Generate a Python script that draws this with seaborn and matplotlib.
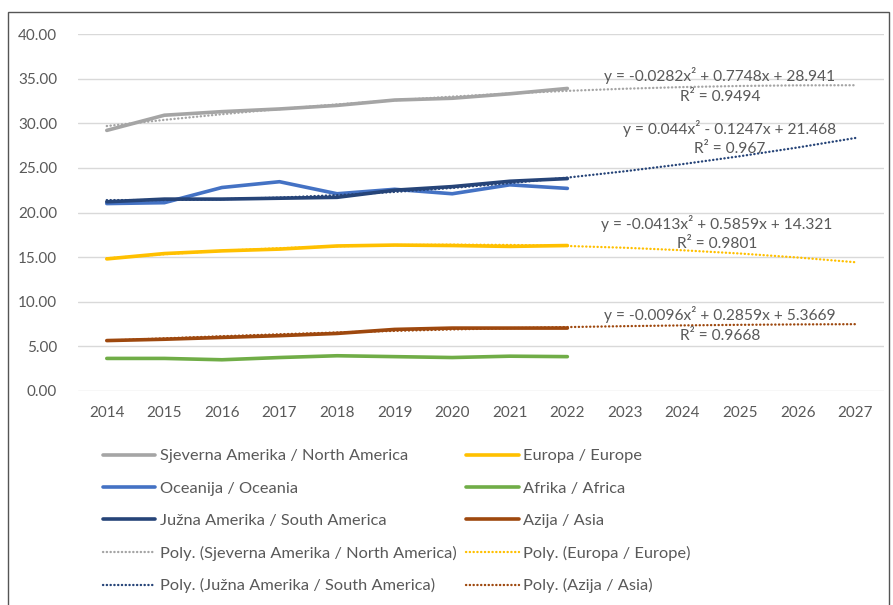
import numpy as np
import pandas as pd
import matplotlib
matplotlib.use("Agg")
import matplotlib.pyplot as plt
from matplotlib.patches import Rectangle
from matplotlib.lines import Line2D
import seaborn as sns

# ---- data ----
years = [2014, 2015, 2016, 2017, 2018, 2019, 2020, 2021, 2022]
forecast_years = list(range(2014, 2028))
north_america = [29.2, 30.9, 31.3, 31.6, 32.0, 32.6, 32.8, 33.3, 33.9]
europe = [14.8, 15.4, 15.7, 15.9, 16.25, 16.35, 16.3, 16.2, 16.3]
oceania = [21.0, 21.1, 22.8, 23.45, 22.1, 22.6, 22.1, 23.1, 22.7]
africa = [3.65, 3.65, 3.5, 3.75, 3.95, 3.85, 3.75, 3.9, 3.85]
south_america = [21.2, 21.5, 21.5, 21.6, 21.7, 22.5, 22.9, 23.5, 23.8]
asia = [5.65, 5.8, 6.0, 6.2, 6.45, 6.9, 7.05, 7.05, 7.05]

series_names = ["Sjeverna Amerika / North America", "Europa / Europe",
                "Oceanija / Oceania", "Afrika / Africa",
                "Južna Amerika / South America", "Azija / Asia"]
series_values = [north_america, europe, oceania, africa, south_america, asia]
series_colors = ["#A5A5A5", "#FFC000", "#4472C4", "#70AD47", "#264478", "#9E480E"]

# polynomial trendlines (coefficients shown on chart: a x^2 + b x + c, x = 1..)
trend_series = ["Sjeverna Amerika / North America", "Europa / Europe",
                "Južna Amerika / South America", "Azija / Asia"]
trend_a = [-0.0282, -0.0413, 0.044, -0.0096]
trend_b = [0.7748, 0.5859, -0.1247, 0.2859]
trend_c = [28.941, 14.321, 21.468, 5.3669]
trend_eq = ["y = -0.0282x² + 0.7748x + 28.941", "y = -0.0413x² + 0.5859x + 14.321",
            "y = 0.044x² - 0.1247x + 21.468", "y = -0.0096x² + 0.2859x + 5.3669"]
trend_r2 = ["R² = 0.9494", "R² = 0.9801", "R² = 0.967", "R² = 0.9668"]

DOT = (0, (0.1, 1.5))

# ---- figure ----
sns.set_theme(style="white")
plt.rcParams['font.family'] = ['Lato', 'DejaVu Sans']
W, H = 893, 605
fig = plt.figure(figsize=(W / 100, H / 100), dpi=100)
ax = fig.add_axes([78 / W, 1 - 391 / H, (884 - 78) / W, (391 - 34) / H])

df = pd.DataFrame({
    "year": np.tile(years, len(series_names)),
    "value": np.concatenate(series_values),
    "series": np.repeat(series_names, len(years)),
})
sns.lineplot(data=df, x="year", y="value", hue="series", hue_order=series_names,
             palette=dict(zip(series_names, series_colors)), linewidth=2.6,
             ax=ax, legend=False, zorder=3)

color_map = dict(zip(series_names, series_colors))
xs = np.arange(1, len(forecast_years) + 1)
trend_rows = []
for name, a, b, c in zip(trend_series, trend_a, trend_b, trend_c):
    yv = a * xs ** 2 + b * xs + c
    trend_rows.append(pd.DataFrame({"year": forecast_years, "value": yv, "series": name}))
tdf = pd.concat(trend_rows)
for name in trend_series:
    sub = tdf[tdf.series == name]
    sns.lineplot(data=sub, x="year", y="value", color=color_map[name],
                 linewidth=1.7, ax=ax, zorder=4, legend=False)
for line in ax.lines[len(series_names):]:
    line.set_linestyle(DOT)
    line.set_dash_capstyle("round")

# equation labels
eq_pos = {  # (x, y_eq, y_r2) in data coordinates
    "Sjeverna Amerika / North America": (2024.65, 35.3, 32.97),
    "Europa / Europe": (2024.6, 18.82, 16.47),
    "Južna Amerika / South America": (2024.82, 29.36, 27.11),
    "Azija / Asia": (2024.65, 8.52, 6.16),
}
for name, eq, r2 in zip(trend_series, trend_eq, trend_r2):
    x, ye, yr = eq_pos[name]
    ax.text(x, ye, eq, ha="center", va="center", fontsize=11.2, color="#595959", zorder=5)
    ax.text(x, yr, r2, ha="center", va="center", fontsize=11.2, color="#595959", zorder=5)

ax.set_xlim(2013.5, 2027.5)
ax.set_ylim(0, 40)
ax.set_xticks(forecast_years)
ax.set_xticklabels([str(y) for y in forecast_years])
ax.set_yticks(np.arange(0, 41, 5))
ax.set_yticklabels([f"{v:.2f}" for v in np.arange(0, 41, 5)])
ax.tick_params(axis="both", length=0, labelsize=11, labelcolor="#595959")
ax.tick_params(axis="y", pad=15)
ax.tick_params(axis="x", pad=11)
ax.set_xlabel("")
ax.set_ylabel("")
ax.grid(axis="y", color="#D9D9D9", linewidth=1)
ax.grid(axis="x", visible=False)
for s in ax.spines.values():
    s.set_visible(False)
ax.set_facecolor("none")

# legend (column-wise order to match row layout)
def solid(name):
    return Line2D([], [], color=color_map[name], linewidth=2.6)

def dotted(name):
    return Line2D([], [], color=color_map[name], linewidth=1.7,
                  linestyle=DOT, dash_capstyle="round")

handles = [solid(series_names[0]), solid(series_names[2]), solid(series_names[4]),
           dotted(trend_series[0]), dotted(trend_series[2]),
           solid(series_names[1]), solid(series_names[3]), solid(series_names[5]),
           dotted(trend_series[1]), dotted(trend_series[3])]
labels = [series_names[0], series_names[2], series_names[4],
          f"Poly. ({trend_series[0]})", f"Poly. ({trend_series[2]})",
          series_names[1], series_names[3], series_names[5],
          f"Poly. ({trend_series[1]})", f"Poly. ({trend_series[3]})"]
leg = fig.legend(handles, labels, ncol=2, loc="upper left",
                 bbox_to_anchor=(103 / W, 1 - 449 / H), frameon=False,
                 fontsize=11.8, labelcolor="#595959", borderpad=0, borderaxespad=0,
                 handlelength=3.2, handletextpad=0.3, columnspacing=0.55,
                 labelspacing=1.08)

# outer chart border
fig.patches.append(Rectangle((8 / W, -0.02), (889 - 8) / W, 1 - 12 / H + 0.02,
                             transform=fig.transFigure, fill=False,
                             edgecolor="#555555", linewidth=1.0))

fig.savefig("out.png", dpi=100)
